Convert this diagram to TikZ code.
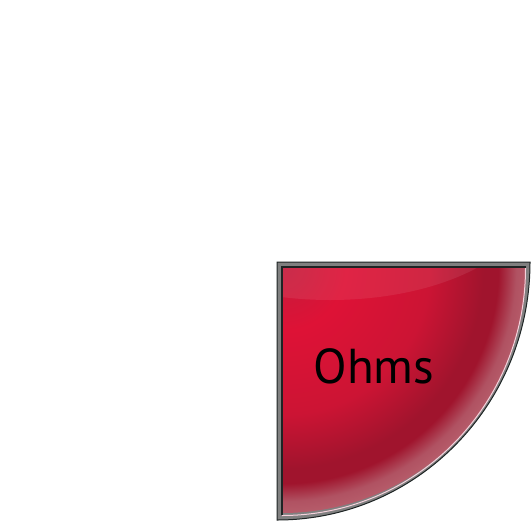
\documentclass[tikz,border=0pt]{standalone}
\usepackage{fontspec}
\setmainfont{PT Sans}
\usepackage{tikz}
\usetikzlibrary{positioning}
\definecolor{rimgray}{RGB}{128,128,128}
\definecolor{rimdark}{RGB}{30,36,36}
\definecolor{ohmcorner}{RGB}{196,28,60}
\definecolor{ohmred}{RGB}{222,18,54}
\definecolor{ohmmid}{RGB}{204,20,52}
\definecolor{ohmdark}{RGB}{160,20,45}
\definecolor{ohmpink}{RGB}{176,82,98}
\definecolor{ohmrim}{RGB}{182,92,106}
\definecolor{ohmlight}{RGB}{245,210,220}
\pgfdeclareradialshading{ohmshade}{\pgfpoint{0bp}{0bp}}{%
  color(0bp)=(ohmcorner);color(6.5bp)=(ohmred);color(15bp)=(ohmmid);%
  color(20.5bp)=(ohmdark);color(22bp)=(ohmdark);color(23.8bp)=(ohmpink);%
  color(25bp)=(ohmrim);color(50bp)=(ohmrim)}
\tikzset{
  frame/.style={fill=rimgray, draw=rimdark, line width=1pt},
  face/.style={shading=ohmshade},
  label/.style={font=\fontsize{49}{52}\selectfont, text=black}
}

\begin{document}
\begin{tikzpicture}[x=1pt, y=-1pt]
\useasboundingbox (0,0) rectangle (532,522);
% gray rim
\draw[frame] (277,262) -- (530,262)
  arc[start angle=0, end angle=90, x radius=253, y radius=258] -- cycle;
% red face, shaded round the corner
\begin{scope}
\clip (282,267) -- (526,267)
  arc[start angle=0, end angle=90, x radius=244, y radius=248] -- cycle;
\path[face] (282,267) circle[radius=246];
\fill[white, opacity=0.08] (330,200) ellipse[x radius=200, y radius=100];
\end{scope}
% inner edges
\draw[rimdark, line width=1.5pt] (526,267) -- (282,267) -- (282,515);
\draw[ohmlight, line width=1pt] (525.5,268)
  arc[start angle=0, end angle=90, x radius=243.5, y radius=247.5];
\node[label] (ohms) at (374,366) {Ohms};
\end{tikzpicture}
\end{document}
